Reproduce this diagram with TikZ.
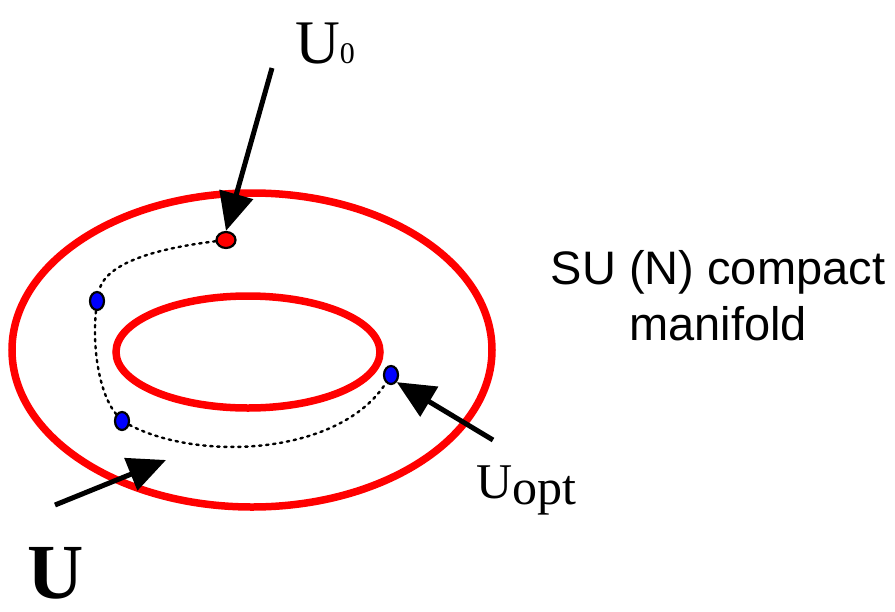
\documentclass[tikz,border=0pt]{standalone}
\usepackage{fontspec}
\setmainfont{Liberation Serif}
\setsansfont{Liberation Sans}
\usepackage{tikz}
\usetikzlibrary{arrows.meta, shapes.geometric}
\tikzset{
	ring/.style={draw=red, line width=7.5pt}, % the two red rings of the manifold
	pt/.style={ellipse, draw=black, line width=2.2pt, inner sep=0pt, minimum width=14pt, minimum height=18pt},
	startpt/.style={pt, fill=red, minimum width=19pt, minimum height=16pt},
	trail/.style={line width=2.4pt, dash pattern=on 2.4pt off 4.6pt, line cap=round}, % dotted path
	pointer/.style={line width=5pt, -{Triangle[length=38pt,width=34pt]}}, % thick black arrows
}

\begin{document}
\begin{tikzpicture}[x=1pt,y=-1pt]
	\useasboundingbox (0,0) rectangle (895,611);
	% the manifold
	\draw[ring] (252,350) ellipse [x radius=240, y radius=157];
	\draw[ring] (248,352) ellipse [x radius=132, y radius=56];
	% points on the path
	\node[startpt] (start) at (226,240) {};
	\node[pt, fill=blue] (b1) at (97,301) {};
	\node[pt, fill=blue] (b2) at (122,421) {};
	\node[pt, fill=blue] (b3) at (391,375) {};
	\draw[trail] (start) .. controls (160,248) and (105,262) .. (b1);
	\draw[trail] (b1) .. controls (92,350) and (100,395) .. (b2);
	\draw[trail] (b2) .. controls (200,462) and (340,455) .. (b3);
	% labels
	\node[anchor=base west, inner sep=0pt, font=\fontsize{62}{62}\selectfont] (lblU0) at (295,63) {U{\fontsize{30}{30}\selectfont 0}};
	\node[anchor=base west, inner sep=0pt, font=\fontsize{50}{50}\selectfont] (lblUopt) at (476,498) {U\raisebox{-6pt}{opt}};
	\node[anchor=base west, inner sep=0pt, font=\fontsize{78}{78}\selectfont\bfseries] (lblU) at (27,598) {U};
	\node[align=center, font=\sffamily\fontsize{47}{56}\selectfont] (lblSU) at (718,296) {SU (N) compact\\manifold};
	% arrows
	\coordinate (u0tail) at (272,68);
	\coordinate (utail) at (55,505);
	\coordinate (utip) at (166,460);
	\coordinate (opttail) at (493,440);
	\draw[pointer] (u0tail) -- (start.north);
	\draw[pointer] (utail) -- (utip);
	\draw[pointer] (opttail) -- (b3.south east);
\end{tikzpicture}
\end{document}
